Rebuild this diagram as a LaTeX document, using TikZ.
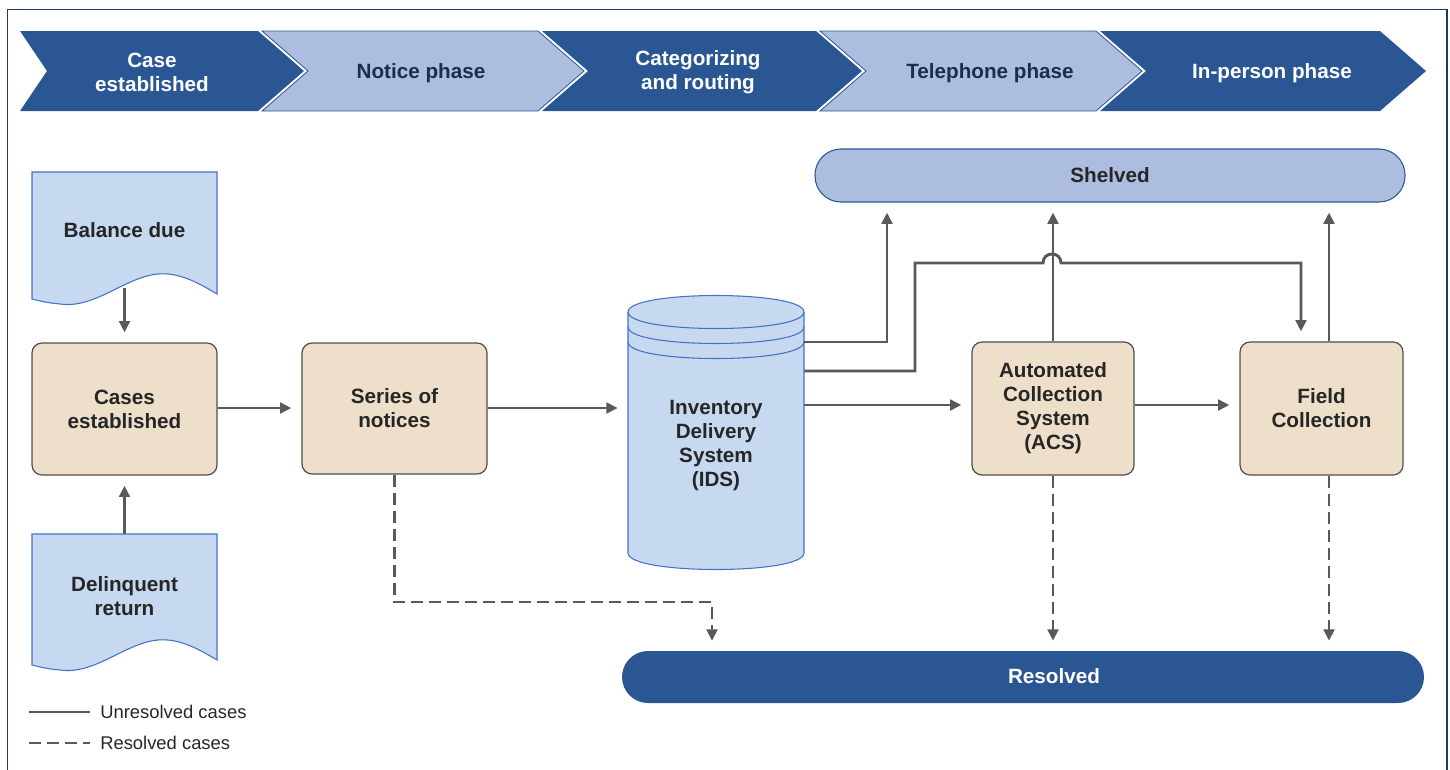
\documentclass[tikz,border=0pt]{standalone}
\usepackage{fontspec}
\setmainfont{Liberation Sans}
\usetikzlibrary{arrows.meta,calc}
\definecolor{navy}{HTML}{2A5794}
\definecolor{lightchev}{HTML}{ADBDE0}
\definecolor{docfill}{HTML}{C6D9F0}
\definecolor{docline}{HTML}{4472C4}
\definecolor{beige}{HTML}{EEDFCA}
\definecolor{boxline}{HTML}{4D4D4D}
\definecolor{linegray}{HTML}{595959}
\definecolor{txt}{HTML}{262626}
\definecolor{chevtxt}{HTML}{1B2D50}
\definecolor{framecol}{HTML}{1F3864}
\begin{document}
\begin{tikzpicture}[x=0.75pt,y=-0.75pt,
  lbl/.style={font=\fontsize{15.5}{18}\selectfont\bfseries, text=txt, align=center, inner sep=0pt},
  procbox/.style={lbl, draw=boxline, fill=beige, line width=0.9pt, rounded corners=7.5pt},
  chevw/.style={lbl, text=white},
  chevd/.style={lbl, text=chevtxt},
  darkchev/.style={fill=navy},
  lightchevron/.style={fill=lightchev, draw=navy, line width=0.6pt},
  docshape/.style={fill=docfill, draw=docline, line width=0.8pt},
  conn/.style={draw=linegray, line width=2.2pt, -{Triangle[length=8.5pt,width=8pt]}, shorten >=7.5pt},
  dconn/.style={conn, dash pattern=on 9pt off 4.5pt},
  legline/.style={draw=linegray, line width=2.2pt},
  legtxt/.style={font=\fontsize{13.8}{16}\selectfont, text=txt, anchor=west, inner sep=0pt}
]
\useasboundingbox (0,0) rectangle (1450,769);
% frame
\draw[framecol, line width=1.1pt] (7.5,780) -- (7.5,9.5) -- (1447,9.5) -- (1447,780);

% chevrons
\fill[darkchev] (20,31) -- (258,31) -- (304,71) -- (258,111) -- (20,111) -- (47,71) -- cycle;
\path[lightchevron] (262,31) -- (538,31) -- (584,71) -- (538,111) -- (262,111) -- (308,71) -- cycle;
\fill[darkchev] (542,31) -- (816,31) -- (862,71) -- (816,111) -- (542,111) -- (588,71) -- cycle;
\path[lightchevron] (820,31) -- (1096,31) -- (1142,71) -- (1096,111) -- (820,111) -- (866,71) -- cycle;
\fill[darkchev] (1100,31) -- (1380,31) -- (1426,71) -- (1380,111) -- (1100,111) -- (1146,71) -- cycle;
\node[chevw] (ch1) at (152,72) {Case\\established};
\node[chevd] (ch2) at (421,73) {Notice phase};
\node[chevw] (ch3) at (698,72) {Categorizing\\and routing};
\node[chevd] (ch4) at (990,73) {Telephone phase};
\node[chevw] (ch5) at (1272,73) {In-person phase};

% documents
\path[docshape] (32,172) -- (217,172) -- (217,294) .. controls (200,284) and (180,272) .. (158,274) .. controls (125,277) and (95,309) .. (60,304) .. controls (48,303) and (40,301) .. (32,299) -- cycle;
\node[lbl, minimum width=138.75pt, minimum height=87pt] (balance) at (124.5,230) {Balance due};
\path[docshape] (32,534) -- (217,534) -- (217,660) .. controls (200,650) and (180,638) .. (158,640) .. controls (125,643) and (95,675) .. (60,670) .. controls (48,669) and (40,667) .. (32,665) -- cycle;
\node[lbl, minimum width=138.75pt, minimum height=93pt] (delinq) at (124.5,596) {Delinquent\\return};

% process boxes
\node[procbox, minimum width=138.75pt, minimum height=99pt] (cases) at (124.5,409) {Cases\\established};
\node[procbox, minimum width=138.75pt, minimum height=98.25pt] (series) at (394.5,408.5) {Series of\\notices};
\node[procbox, minimum width=121.5pt, minimum height=99.75pt] (acs) at (1053,408.5) {Automated\\Collection\\System\\(ACS)};
\node[procbox, minimum width=122.25pt, minimum height=99.75pt] (field) at (1321.5,408.5) {Field\\Collection};

% cylinder
\path[docshape] (628,312) -- (628,553) .. controls (628,575) and (804,575) .. (804,553) -- (804,312) .. controls (804,290) and (628,290) .. (628,312) -- cycle;
\draw[docline, line width=0.8pt] (628,312) .. controls (628,334) and (804,334) .. (804,312);
\draw[docline, line width=0.8pt] (628,327) .. controls (628,349) and (804,349) .. (804,327);
\draw[docline, line width=0.8pt] (628,342) .. controls (628,364) and (804,364) .. (804,342);
\node[minimum width=132pt, minimum height=206.25pt, inner sep=0pt] (ids) at (716,432.5) {};
\node[lbl] (idstext) at (716,446) {Inventory\\Delivery\\System\\(IDS)};

% pills
\node[lbl, fill=lightchev, draw=navy, line width=0.8pt, rounded corners=19.5pt, minimum width=442.5pt, minimum height=39.75pt] (shelved) at (1110,175.5) {Shelved};
\node[fill=navy, rounded corners=19.5pt, minimum width=601.5pt, minimum height=39pt, inner sep=0pt] (resolved) at (1023,677) {};
\node[lbl, text=white] (resolvedtext) at (1054,676) {Resolved};

% helper coordinates
\coordinate (x887) at (887,0);
\coordinate (x1301) at (1301,0);
\coordinate (x1329) at (1329,0);
\coordinate (x712) at (712,0);
\coordinate (y342) at (0,342);
\coordinate (y371) at (0,371);
\coordinate (y405) at (0,405);
\coordinate (y408) at (0,408);
\coordinate (y602) at (0,602);
\coordinate (bump) at (1052,263);

% connectors
\draw[conn] (balance.south) -- (cases.north);
\draw[conn] (delinq.north) -- (cases.south);
\draw[conn] (cases.east |- y408) -- (series.west |- y408);
\draw[conn] (series.east |- y408) -- (ids.west |- y408);
\draw[conn] (ids.east |- y342) -| (shelved.south -| x887);
\draw[conn] (ids.east |- y371) -| ($(bump)+(-137,0)$) -- ($(bump)+(-9,0)$) .. controls ($(bump)+(-9,-12)$) and ($(bump)+(9,-12)$) .. ($(bump)+(9,0)$) -| (field.north -| x1301);
\draw[conn] (ids.east |- y405) -- (acs.west |- y405);
\draw[conn] (acs.north) -- (acs.north |- shelved.south);
\draw[conn] (acs.east |- y405) -- (field.west |- y405);
\draw[conn] (field.north -| x1329) -- (shelved.south -| x1329);
\draw[dconn] (series.south) |- (y602 -| x712) -- (resolved.north -| x712);
\draw[dconn] (acs.south) -- (acs.south |- resolved.north);
\draw[dconn] (field.south -| x1329) -- (resolved.north -| x1329);

% legend
\coordinate (l1a) at (29,712);
\coordinate (l1b) at (90,712);
\coordinate (l2a) at (29,743);
\coordinate (l2b) at (90,743);
\draw[legline] (l1a) -- (l1b);
\draw[legline, dash pattern=on 9pt off 4.5pt] (l2a) -- (l2b);
\node[legtxt] (leg1) at (100,712) {Unresolved cases};
\node[legtxt] (leg2) at (100,743) {Resolved cases};
\end{tikzpicture}
\end{document}
